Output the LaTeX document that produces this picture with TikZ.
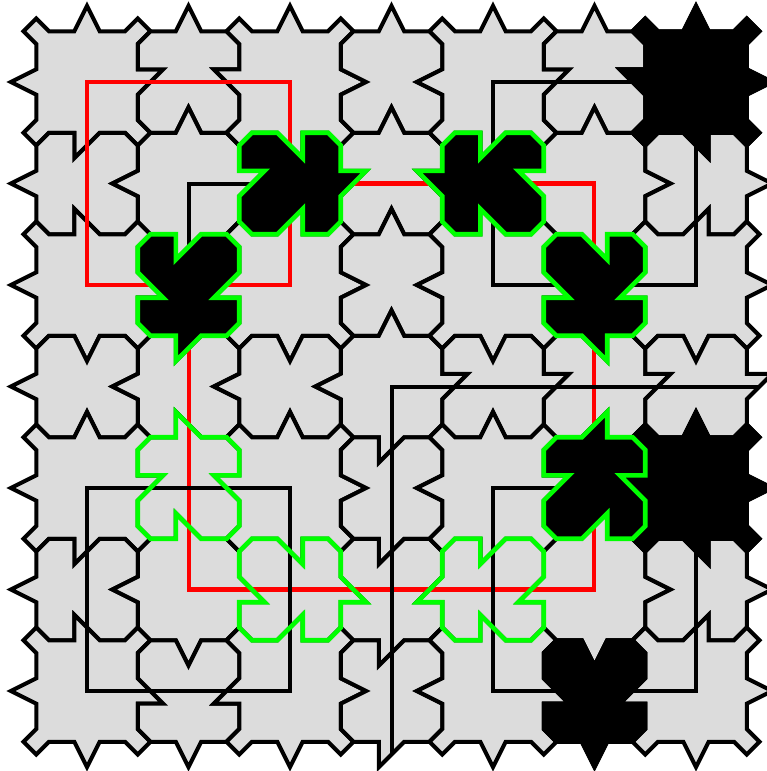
\documentclass[tikz,border=0pt]{standalone}
\usepackage{xcolor}
\definecolor{tilegray}{HTML}{DCDCDC}
\definecolor{wirered}{HTML}{FF0000}
\definecolor{markgreen}{HTML}{00FF00}

\newcommand{\halfside}{50.75}
\newcommand{\toothhalf}{12.7}
\newcommand{\toothlen}{25.4}

% tooth codes, sign: + is down or right, size: 1 up or left bend, 2 straight, 3 down or right bend
\def\hteeth{{-2,-2,-2,-2,-2,-2,-2,
 1,-2,3,-2,1,-2,3,
 -1,1,-3,-2,-1,3,-3,
 2,1,2,-2,2,3,2,
 -2,-1,-2,1,-2,-3,-2,
 1,-1,3,1,1,-3,3,
 -1,2,-3,1,-1,2,-3,
 2,2,2,1,2,2,2}}
\def\vteeth{{-2,1,-1,2,-2,1,-1,2,
 -2,-2,1,1,-1,-1,2,2,
 -2,3,-3,2,-2,3,-3,2,
 -2,-2,-2,-2,1,1,1,1,
 -2,1,-1,2,-2,1,-1,2,
 -2,-2,3,3,-3,-3,2,2,
 -2,3,-3,2,-2,3,-3,2}}

\newcommand{\earcorner}[1]{-- ([rotate=#1]\halfside,-\halfside-\toothhalf) -- ([rotate=#1]\halfside+\toothhalf,-\halfside)}
\newcommand{\flatcorner}[1]{}
\newcommand{\tileside}[3]{-- ([rotate=#1]-\toothhalf,-\halfside)
 -- ([rotate=#1]#3*\toothhalf,-\halfside-#2*\toothlen)
 -- ([rotate=#1]\toothhalf,-\halfside)
 -- ([rotate=#1]\halfside-\toothhalf,-\halfside)
 \tilecorner{#1}}
\newcommand{\sidestart}[1]{-- ([rotate=#1]-\halfside+\toothhalf,-\halfside)}

\newcommand{\drawtile}[3]{%
 \pgfmathsetmacro\tilex{87+101.5*#1}%
 \pgfmathsetmacro\tiley{82+101.5*#2}%
 \pgfmathtruncatemacro\codet{\hteeth[7*#2+#1]}%
 \pgfmathtruncatemacro\codeb{\hteeth[7*#2+7+#1]}%
 \pgfmathtruncatemacro\coder{\vteeth[8*#2+#1+1]}%
 \pgfmathtruncatemacro\codel{\vteeth[8*#2+#1]}%
 \pgfmathtruncatemacro\outt{-sign(\codet)}%
 \pgfmathtruncatemacro\outb{sign(\codeb)}%
 \pgfmathtruncatemacro\outr{sign(\coder)}%
 \pgfmathtruncatemacro\outl{-sign(\codel)}%
 \pgfmathtruncatemacro\bendt{abs(\codet)-2}%
 \pgfmathtruncatemacro\bendb{2-abs(\codeb)}%
 \pgfmathtruncatemacro\bendr{abs(\coder)-2}%
 \pgfmathtruncatemacro\bendl{2-abs(\codel)}%
 \let\tilecorner\earcorner
 \ifodd#1 \let\tilecorner\flatcorner\fi
 \ifodd#2 \let\tilecorner\flatcorner\fi
 \draw[#3,shift={(\tilex,\tiley)}] (-\halfside+\toothhalf,-\halfside)
  \tileside{0}{\outt}{\bendt} \sidestart{-90}
  \tileside{-90}{\outr}{\bendr} \sidestart{-180}
  \tileside{-180}{\outb}{\bendb} \sidestart{-270}
  \tileside{-270}{\outl}{\bendl} -- cycle;%
}

\tikzset{
 graytile/.style={draw=black,fill=tilegray,line width=4pt},
 blacktile/.style={draw=black,fill=black,line width=4pt},
 markedtile/.style={draw=markgreen,fill=black,line width=4.6pt},
 openmark/.style={draw=markgreen,line width=4.6pt},
 redwire/.style={draw=wirered,line width=4.2pt},
 blackwire/.style={draw=black,line width=4pt},
}

\begin{document}
\begin{tikzpicture}[x=1pt,y=-1pt]
\useasboundingbox (0,0) rectangle (767,771);

\foreach \col in {0,...,6}
 \foreach \row in {0,...,6}
  {\drawtile{\col}{\row}{graytile}}

% red loops
\draw[redwire] (87,82) -- (290,82) -- (290,285) -- (87,285) -- cycle;
\draw[redwire] (290,183.5) -- (594,183.5) -- (594,589.5) -- (189,589.5) -- (189,285);

% black loops
\draw[blackwire] (189,285) -- (189,183.5) -- (290,183.5);
\draw[blackwire] (493,82) -- (696,82) -- (696,285) -- (493,285) -- cycle;
\draw[blackwire] (87,488) -- (290,488) -- (290,691) -- (87,691) -- cycle;
\draw[blackwire] (493,488) -- (696,488) -- (696,691) -- (493,691) -- cycle;
\draw[blackwire] (392,754) -- (392,386.5) -- (759.5,386.5);

% marked tiles
\foreach \col/\row in {6/0,6/4,5/6}
 {\drawtile{\col}{\row}{blacktile}}
\foreach \col/\row in {2/1,4/1,1/2,5/2,5/4}
 {\drawtile{\col}{\row}{markedtile}}
\foreach \col/\row in {1/4,2/5,4/5}
 {\drawtile{\col}{\row}{openmark}}
\end{tikzpicture}
\end{document}
